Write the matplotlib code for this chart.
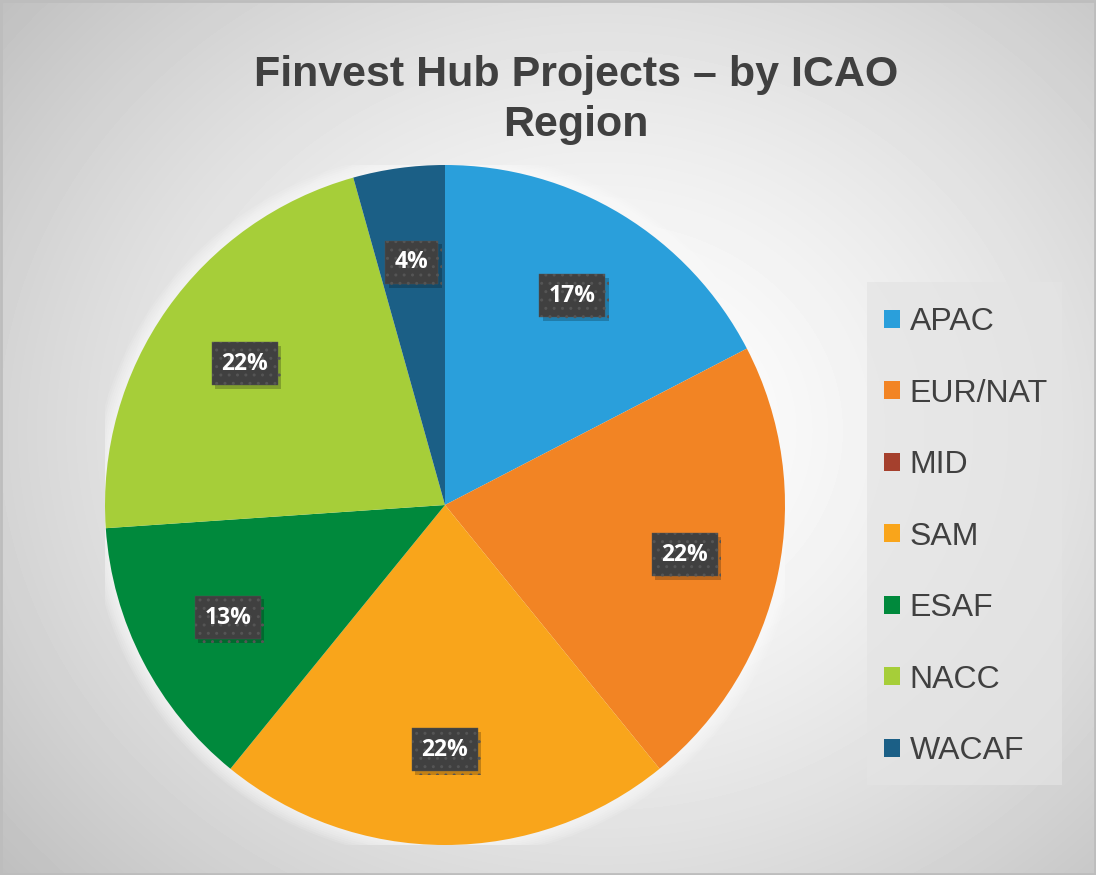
import matplotlib
matplotlib.use("Agg")
import matplotlib.pyplot as plt
import matplotlib.patheffects as pe
from matplotlib.patches import Rectangle, Circle
import numpy as np

# Data: project counts by ICAO region
regions = ["APAC", "EUR/NAT", "MID", "SAM", "ESAF", "NACC", "WACAF"]
projects = [4, 5, 0, 5, 3, 5, 1]
colors = ["#2a9fdb", "#f28424", "#a5402d", "#f9a51b", "#00893c", "#a6ce39", "#1b5f86"]
title = "Finvest Hub Projects \u2013 by ICAO\nRegion"

W, H = 1096, 875
fig = plt.figure(figsize=(W / 100, H / 100), dpi=100)

# Radial grey background (pixel coordinates, y down)
bg = fig.add_axes([0, 0, 1, 1])
yy, xx = np.mgrid[0:H, 0:W]
d = np.sqrt(((xx - 600) / 720.0) ** 2 + ((yy - 430) / 620.0) ** 2)
shade = 1.0 - 0.22 * np.clip(d, 0, 1.2) ** 1.5
bg.imshow(shade, cmap="gray", vmin=0, vmax=1, extent=[0, W, H, 0], aspect="auto")
bg.add_patch(Rectangle((1, 1), W - 2, H - 2, fill=False, ec="#bdbdbd", lw=2))
# legend panel
bg.add_patch(Rectangle((867, 282), 195, 503, fc="#e4e4e4", alpha=0.7, ec="none"))
bg.set_xlim(0, W)
bg.set_ylim(H, 0)
bg.axis("off")

# Pie
ax = fig.add_axes([105 / W, 30 / H, 680 / W, 680 / H])
for i in range(8):
    ax.add_patch(Circle((0, 0), 1.0 + i * 0.006, color="white", alpha=0.12, lw=0, zorder=0))


def pct_label(p):
    return f"{p:.0f}%" if p > 0.5 else ""


wedges, texts, autotexts = ax.pie(
    projects,
    colors=colors,
    startangle=90,
    counterclock=False,
    autopct=pct_label,
    pctdistance=0.72,
    radius=1.0,
    wedgeprops=dict(linewidth=0),
    textprops=dict(color="white", fontsize=16.5, fontweight="bold", family="Open Sans"),
)
for w in wedges:
    w.set_zorder(2)
for t in autotexts:
    t.set_zorder(5)
    t.set_bbox(dict(boxstyle="square,pad=0.42", fc="#404040", ec="#555555", lw=0.3, hatch=".."))
    t.get_bbox_patch().set_path_effects(
        [pe.SimplePatchShadow(offset=(2.5, -2.5), shadow_rgbFace="black", alpha=0.22), pe.Normal()]
    )
ax.set_xlim(-1, 1)
ax.set_ylim(-1, 1)
ax.set_aspect("equal")
ax.axis("off")

# Title
fig.text(576 / W, 1 - 100 / H, title, ha="center", va="center", fontsize=31,
         fontweight="bold", color="#404040", family="Liberation Sans",
         linespacing=1.32)

# Legend
handles = [Rectangle((0, 0), 1, 1, fc=c, ec="none") for c in colors]
leg = fig.legend(
    handles, regions,
    loc="upper left",
    bbox_to_anchor=(884 / W, 1 - 307 / H),
    borderaxespad=0,
    borderpad=0,
    frameon=False,
    prop=dict(family="Liberation Sans", size=23),
    labelcolor="#404040",
    handlelength=0.5,
    handleheight=0.5,
    handletextpad=0.3,
    labelspacing=1.3,
)

fig.savefig("out.png", dpi=100)
